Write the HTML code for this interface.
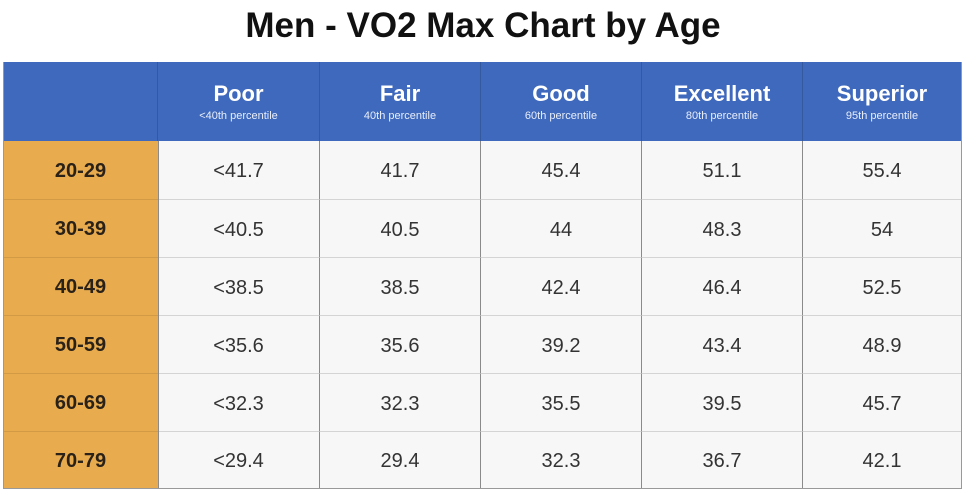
<!DOCTYPE html>
<html><head><style>
body{margin:0;width:966px;height:495px;background:#fff;position:relative;overflow:hidden;font-family:"Liberation Sans",Arial,sans-serif}
.t{position:absolute;left:0;top:6px;width:966px;text-align:center;font-weight:bold;font-size:35px;color:#111}
.c{position:absolute;box-sizing:border-box;display:flex;flex-direction:column;align-items:center;justify-content:center}
.h{background:#3e69bd;color:#fff;border-right:1px solid #35599f}
.h b{font-size:22px;line-height:24px}
.h span{font-size:11px;margin-top:4px;color:#e8eefa}
.a{background:#e8ac4e;color:#2a2118;font-weight:bold;font-size:20px;border-bottom:1px solid #d29a44;padding-top:2px}
.d{background:#f7f7f7;color:#333;font-size:20px;border-right:1px solid #8a8a8a;border-bottom:1px solid #d4d4d4;padding-top:3px}
</style></head><body>
<div class="t">Men - VO2 Max Chart by Age</div>
<div id="g"></div>
<script>
var xs=[3,158,320,481,642,803,962],ys=[62,141,200,258,316,374,432,489];
var hd=[["Poor","&lt;40th percentile"],["Fair","40th percentile"],["Good","60th percentile"],["Excellent","80th percentile"],["Superior","95th percentile"]];
var ages=["20-29","30-39","40-49","50-59","60-69","70-79"];
var v=[["<41.7","41.7","45.4","51.1","55.4"],["<40.5","40.5","44","48.3","54"],["<38.5","38.5","42.4","46.4","52.5"],["<35.6","35.6","39.2","43.4","48.9"],["<32.3","32.3","35.5","39.5","45.7"],["<29.4","29.4","32.3","36.7","42.1"]];
var h="";
function box(cls,x0,x1,y0,y1,inner){return '<div class="c '+cls+'" style="left:'+x0+'px;top:'+y0+'px;width:'+(x1-x0)+'px;height:'+(y1-y0)+'px">'+inner+'</div>';}
h+=box("h",xs[0],xs[1],ys[0],ys[1],"");
for(var i=0;i<5;i++)h+=box("h",xs[i+1],xs[i+2],ys[0],ys[1],'<b>'+hd[i][0]+'</b><span>'+hd[i][1]+'</span>');
for(var r=0;r<6;r++){h+=box("a",xs[0],xs[1],ys[r+1],ys[r+2],ages[r]);
for(var i=0;i<5;i++)h+=box("d",xs[i+1],xs[i+2],ys[r+1],ys[r+2],v[r][i].replace("<","&lt;"));}
h+='<div style="position:absolute;left:158px;top:141px;width:1px;height:348px;background:#8a8a8a"></div>';
h+='<div style="position:absolute;left:3px;top:62px;width:959px;height:427px;box-sizing:border-box;border:1px solid #999;border-top:none"></div>';
document.getElementById("g").innerHTML=h;
</script>
</body></html>
